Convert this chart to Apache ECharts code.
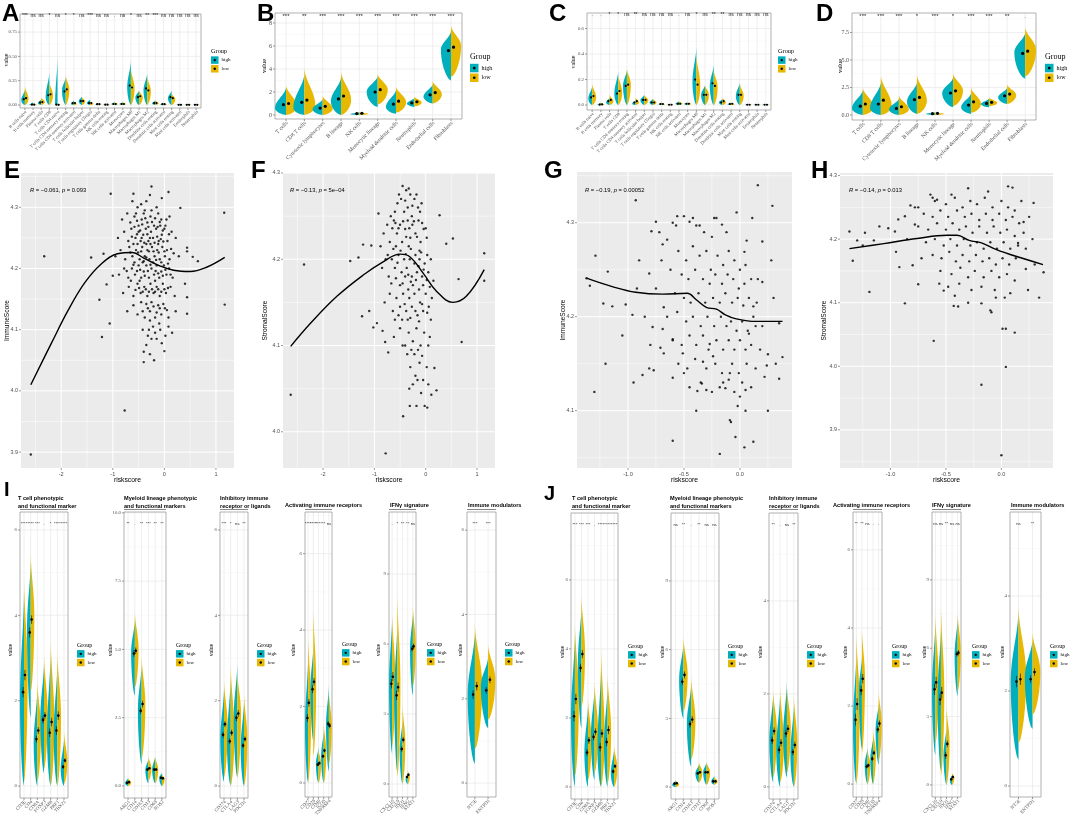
<!DOCTYPE html>
<html>
<head>
<meta charset="utf-8"/>
<title>Immune infiltration by risk group</title>
<script src="https://cdn.jsdelivr.net/npm/echarts@6.0.0/dist/echarts.min.js"></script>
<style>html,body{margin:0;padding:0;background:#fff}#main{width:1072px;height:818px}</style>
</head>
<body>
<div id="main"></div>
<script>
var HIGH = '#00AFBB', LOW = '#E7B800';
var SERIF = '"Liberation Serif","DejaVu Serif",serif';
var SANS = '"Liberation Sans",Arial,sans-serif';

// ---------- categories ----------
var cellsA = ['B cells naive','B cells memory','Plasma cells','T cells CD8','T cells CD4 naive','T cells CD4 memory resting','T cells CD4 memory activated','T cells follicular helper','T cells regulatory (Tregs)','T cells gamma delta','NK cells resting','NK cells activated','Monocytes','Macrophages M0','Macrophages M1','Macrophages M2','Dendritic cells resting','Dendritic cells activated','Mast cells resting','Mast cells activated','Eosinophils','Neutrophils'];
var cellsC = ['B cells naive','B cells memory','Plasma cells','T cells CD8','T cells CD4 memory resting','T cells CD4 memory activated','T cells follicular helper','T cells regulatory (Tregs)','T cells gamma delta','NK cells resting','NK cells activated','Monocytes','Macrophages M0','Macrophages M1','Macrophages M2','Dendritic cells resting','Dendritic cells activated','Mast cells resting','Mast cells activated','Eosinophils','Neutrophils'];
var mcpCells = ['T cells','CD8 T cells','Cytotoxic lymphocytes','B lineage','NK cells','Monocytic lineage','Myeloid dendritic cells','Neutrophils','Endothelial cells','Fibroblasts'];
var tcellGenes = ['CD3E','CD4','CD8A','FOXP3','GZMB','PRF1','TBX21'];
var myeloidGenes = ['ARG1','CD14','CD163','CD33','CD68','NOS2'];
var inhibitoryGenes = ['CD274','CTLA4','LAG3','PDCD1'];
var activatingGenes = ['CD27','CD28','CD40','ICOS','TNFRSF4'];
var ifngGenes = ['CXCL10','CXCL9','IDO1','IFNG','STAT1'];
var modulatorGenes = ['NT5E','ENTPD1'];

// ---------- violins: [min, mode, max, half width, mean, error] ----------
var sigA = ['***','ns','ns','*','ns','*','*','ns','***','ns','ns','.','ns','*','ns','**','***','ns','ns','ns','ns','ns'];
var highA = [[0,.05,.16,.45,.06],[0,0,.03,.45,.003],[0,.02,.06,.4,.025],[0,.08,.34,.45,.1],[0,0,.5,.3,.003],[0,.15,.29,.45,.14],[0,.01,.05,.35,.02],[0,.04,.09,.4,.04],[0,.02,.06,.4,.02],[0,.005,.02,.35,.008],[0,0,.015,.4,.003],[0,.01,.03,.4,.01],[0,.01,.03,.4,.01],[0,.18,.46,.45,.2],[0,.08,.15,.45,.08],[0,.15,.33,.45,.17],[0,.015,.05,.4,.02],[0,.005,.02,.4,.008],[0,.07,.15,.45,.08],[0,0,.01,.4,.002],[0,0,.01,.4,.002],[0,0,.01,.4,.002]];
var lowA = [[0,.06,.2,.45,.07],[0,0,.02,.45,.003],[0,.03,.08,.45,.03],[0,.1,.24,.45,.11],[0,0,.02,.3,.002],[0,.16,.31,.45,.16],[0,.01,.04,.35,.02],[0,.04,.08,.4,.04],[0,.01,.04,.4,.02],[0,.005,.02,.35,.008],[0,0,.015,.4,.003],[0,.01,.03,.4,.01],[0,.01,.03,.4,.01],[0,.17,.38,.45,.18],[0,.08,.15,.45,.09],[0,.14,.3,.45,.15],[0,.015,.05,.4,.02],[0,.005,.02,.4,.008],[0,.06,.12,.45,.07],[0,0,.01,.4,.002],[0,0,.01,.4,.002],[0,0,.01,.4,.002]];

var sigB = ['***','**','***','***','***','***','***','***','***','***'];
var highB = [[0,.6,2.4,.6,.9],[0,.6,3.6,.6,1.1],[0,.5,1.4,.55,.6],[0,1.2,3.3,.55,1.4],[0,.08,.25,.5,.12],[.7,2.0,3.4,.6,2.0],[.1,.7,2.2,.55,.95],[.7,1.0,1.5,.4,1.05],[1.0,1.6,2.7,.5,1.75],[3.0,5.7,7.3,.55,5.6]];
var lowB = [[0,.7,2.6,.6,1.0],[0,.8,4.1,.6,1.3],[0,.55,1.7,.55,.75],[0,1.3,3.8,.55,1.65],[0,.1,.25,.5,.15],[.9,2.2,3.6,.55,2.2],[.2,1.1,2.5,.55,1.2],[.75,1.1,1.6,.4,1.15],[1.0,1.8,3.0,.5,1.95],[3.3,6.0,7.8,.55,5.9]];

var sigC = ['.','.','*','*','ns','**','ns','ns','ns','ns','.','ns','*','ns','**','**','ns','ns','ns','ns','ns'];
var highC = [[0,.05,.15,.45,.06],[0,0,.02,.4,.003],[0,.02,.06,.4,.03],[0,.09,.27,.45,.09],[0,.15,.28,.45,.15],[0,.01,.04,.4,.02],[0,.04,.08,.45,.04],[0,.02,.05,.4,.02],[0,.005,.02,.35,.008],[0,0,.01,.35,.002],[0,.01,.03,.4,.01],[0,.01,.02,.4,.01],[0,.18,.46,.45,.2],[0,.08,.16,.45,.08],[0,.15,.32,.45,.17],[0,.02,.05,.4,.02],[0,.005,.02,.4,.008],[0,.07,.18,.45,.08],[0,0,.01,.4,.002],[0,0,.01,.4,.002],[0,0,.01,.4,.002]];
var lowC = [[0,.06,.17,.45,.07],[0,0,.02,.4,.005],[0,.03,.08,.45,.04],[0,.1,.24,.45,.11],[0,.16,.29,.45,.16],[0,.02,.06,.4,.03],[0,.04,.08,.45,.04],[0,.02,.05,.4,.02],[0,.005,.02,.35,.008],[0,0,.01,.35,.002],[0,.01,.03,.4,.01],[0,.01,.02,.4,.01],[0,.15,.4,.45,.16],[0,.08,.16,.45,.08],[0,.14,.28,.45,.15],[0,.02,.06,.4,.03],[0,.005,.02,.4,.01],[0,.07,.17,.45,.08],[0,0,.01,.4,.002],[0,0,.01,.4,.002],[0,0,.01,.4,.002]];

var sigD = ['***','***','***','*','***','*','***','***','**','.'];
var highD = [[0,.6,2.3,.6,.8],[0,.6,3.0,.6,1.0],[0,.5,1.5,.55,.6],[.1,1.2,3.0,.55,1.4],[0,.1,.25,.5,.12],[.7,2.0,3.4,.6,2.0],[.1,.7,2.0,.55,.9],[.7,1.0,1.5,.45,1.05],[1.0,1.6,2.5,.5,1.75],[3.3,5.7,7.5,.6,5.6]];
var lowD = [[0,.7,2.5,.6,1.0],[0,.8,3.6,.6,1.35],[0,.5,1.8,.55,.75],[.1,1.3,3.7,.55,1.6],[0,.1,.25,.5,.15],[.8,2.2,3.8,.55,2.2],[.2,1.0,2.5,.55,1.2],[.8,1.1,1.6,.45,1.15],[1.0,1.8,2.8,.5,1.9],[3.5,5.9,8.0,.6,5.8]];

var sigI1 = ['****','****','***','.','*','****','****'];
var highI1 = [[0,2.0,4.6,.6,2.2,.12],[1.6,3.7,5.3,.55,3.6,.12],[0,1.0,2.3,.55,1.1,.08],[.3,1.6,2.9,.55,1.55,.08],[0,1.2,3.2,.55,1.25,.1],[0,1.2,2.9,.55,1.3,.1],[0,.4,1.1,.5,.45,.05]];
var lowI1 = [[.1,2.6,4.9,.55,2.6,.12],[2.2,4.0,5.5,.55,3.9,.1],[.1,1.3,2.5,.55,1.3,.08],[.4,1.7,3.1,.55,1.65,.08],[0,1.5,3.5,.55,1.5,.1],[0,1.6,3.2,.55,1.65,.1],[.05,.55,1.3,.5,.6,.05]];
var sigI2 = ['**','.','**','***','**','**'];
var highI2 = [[0,.1,.3,.45,.12,.03],[3.3,4.9,6.1,.55,4.85,.12],[.8,2.8,4.5,.55,2.75,.12],[.1,.6,1.0,.45,.6,.04],[.1,.6,1.1,.45,.6,.04],[0,.3,.5,.4,.3,.03]];
var lowI2 = [[0,.12,.3,.45,.14,.03],[3.6,5.0,6.4,.55,4.95,.12],[1.0,3.0,4.8,.55,3.0,.12],[.2,.65,1.1,.45,.65,.04],[.1,.6,1.1,.45,.6,.04],[0,.25,.45,.4,.28,.03]];
var sigI3 = ['***','*','ns','**'];
var highI3 = [[.1,1.1,2.3,.55,1.2,.07],[0,1.0,2.6,.55,1.05,.07],[.2,1.6,2.9,.55,1.6,.08],[0,.9,2.0,.5,.95,.06]];
var lowI3 = [[.2,1.4,2.5,.55,1.45,.07],[0,1.2,2.9,.55,1.25,.07],[.2,1.7,2.7,.55,1.7,.08],[0,1.1,2.2,.5,1.1,.06]];
var sigI4 = ['****','****','****','**','ns'];
var highI4 = [[0,1.5,3.3,.6,1.7,.1],[1.1,2.5,3.6,.55,2.45,.1],[0,.5,.95,.5,.48,.04],[0,.7,1.4,.5,.7,.05],[.3,1.5,2.6,.55,1.55,.07]];
var lowI4 = [[0,2.0,3.9,.6,2.1,.1],[.7,2.6,4.6,.55,2.65,.1],[0,.5,.9,.5,.52,.04],[0,.8,1.6,.5,.85,.05],[.5,1.5,2.4,.55,1.5,.07]];
var sigI5 = ['.','*','**','**','ns'];
var highI5 = [[1.3,4.3,7.2,.6,4.3,.2],[.5,3.8,7.0,.6,3.8,.2],[0,1.4,2.8,.55,1.5,.12],[0,.2,.5,.4,.3,.05],[3.8,5.8,7.4,.55,5.8,.12]];
var lowI5 = [[1.6,4.6,7.4,.6,4.6,.2],[.3,4.2,8.3,.6,4.15,.2],[0,1.8,3.4,.55,1.9,.12],[0,.3,.6,.4,.4,.05],[4.2,5.9,7.7,.55,5.9,.12]];
var sigI6 = ['***','***'];
var highI6 = [[.45,2.1,3.6,.55,2.1,.1],[1.3,2.3,3.0,.55,2.2,.08]];
var lowI6 = [[.8,2.3,3.8,.55,2.3,.1],[1.5,2.45,3.3,.55,2.45,.08]];

var sigJ1 = ['***','***','***','.','****','****','****'];
var highJ1 = [[0,2.0,4.5,.6,2.05,.15],[1.7,3.6,5.3,.55,3.45,.12],[0,1.0,2.4,.55,1.0,.1],[.2,1.5,2.9,.55,1.45,.1],[0,1.1,3.5,.55,1.15,.12],[0,1.2,3.0,.55,1.3,.12],[0,.4,1.1,.5,.45,.06]];
var lowJ1 = [[.3,2.5,4.8,.6,2.55,.15],[2.3,3.9,5.6,.55,3.85,.12],[.2,1.3,2.6,.55,1.35,.1],[.4,1.6,3.1,.55,1.6,.1],[0,1.5,4.1,.55,1.55,.12],[.1,1.6,3.3,.55,1.65,.12],[0,.55,1.2,.5,.6,.06]];
var sigJ2 = ['ns','**','.','**','ns','ns'];
var highJ2 = [[0,.1,.3,.45,.15,.04],[3.0,4.7,6.3,.55,4.6,.15],[.9,2.8,4.5,.55,2.75,.15],[.2,.6,1.0,.45,.6,.05],[.1,.65,1.1,.45,.65,.05],[.1,.25,.5,.4,.25,.03]];
var lowJ2 = [[0,.12,.3,.45,.17,.04],[3.3,4.9,6.6,.55,4.9,.15],[1.2,2.9,4.9,.55,2.95,.15],[.2,.65,1.1,.45,.65,.05],[.1,.65,1.1,.45,.65,.05],[.1,.25,.45,.4,.25,.03]];
var sigJ3 = ['**','.','ns','**'];
var highJ3 = [[.1,1.0,2.0,.55,1.0,.08],[0,.8,2.0,.55,.8,.08],[.2,1.1,2.3,.55,1.15,.08],[0,.7,1.8,.5,.75,.07]];
var lowJ3 = [[.2,1.2,2.1,.55,1.2,.08],[.1,.9,2.2,.55,.95,.08],[.3,1.25,2.2,.55,1.25,.08],[0,.9,2.0,.5,.9,.07]];
var sigJ4 = ['**','**','ns','.','.'];
var highJ4 = [[0,1.5,3.4,.6,1.65,.15],[.9,2.4,3.3,.55,2.4,.12],[0,.5,.95,.5,.45,.05],[0,.65,1.2,.5,.65,.06],[.5,1.4,2.1,.55,1.4,.08]];
var lowJ4 = [[0,2.0,3.9,.6,2.05,.15],[.8,2.7,4.0,.55,2.7,.12],[0,.5,.9,.5,.48,.05],[0,.8,1.4,.5,.8,.06],[.6,1.55,2.4,.55,1.55,.08]];
var sigJ5 = ['ns','ns','**','ns','ns'];
var highJ5 = [[1.3,4.2,7.2,.6,4.2,.25],[.6,3.8,7.0,.6,3.75,.25],[0,1.3,2.6,.55,1.3,.15],[0,.2,.45,.4,.25,.06],[3.9,5.7,7.4,.55,5.75,.12]];
var lowJ5 = [[1.8,4.5,7.6,.6,4.5,.25],[.4,4.1,8.0,.6,4.05,.25],[0,1.8,3.5,.55,1.8,.15],[0,.3,.55,.4,.35,.06],[4.1,5.8,7.6,.55,5.8,.12]];
var sigJ6 = ['ns','**'];
var highJ6 = [[.55,2.2,3.7,.55,2.2,.12],[1.2,2.3,3.1,.55,2.25,.08]];
var lowJ6 = [[.9,2.3,3.8,.55,2.25,.12],[1.5,2.4,3.25,.55,2.4,.08]];

// ---------- tick labels ----------
var yTicksA = [0, 0.25, 0.5, 0.75], yLabelsA = ['0.00','0.25','0.50','0.75'];
var yTicksB = [0, 2, 4, 6, 8], yLabelsB = ['0','2','4','6','8'];
var yTicksC = [0, 0.2, 0.4, 0.6], yLabelsC = ['0.0','0.2','0.4','0.6'];
var yTicksD = [0, 2.5, 5, 7.5], yLabelsD = ['0.0','2.5','5.0','7.5'];
var yTicks0246 = [0, 2, 4, 6], yLabels0246 = ['0','2','4','6'];
var yTicks024 = [0, 2, 4], yLabels024 = ['0','2','4'];
var yTicks0369 = [0, 3, 6, 9], yLabels0369 = ['0','3','6','9'];
var yTicksI2 = [0, 2.5, 5, 7.5, 10], yLabelsI2 = ['0.0','2.5','5.0','7.5','10.0'];
var xTicksEF = [-2, -1, 0, 1], xLabelsEF = ['-2','-1','0','1'];
var xTicksGH = [-1, -0.5, 0], xLabelsGH = ['-1.0','-0.5','0.0'];
var yTicksEH = [3.9, 4.0, 4.1, 4.2, 4.3], yLabelsEH = ['3.9','4.0','4.1','4.2','4.3'];
var yTicksF = [4.0, 4.1, 4.2, 4.3], yLabelsF = ['4.0','4.1','4.2','4.3'];
var yTicksG = [4.1, 4.2, 4.3], yLabelsG = ['4.1','4.2','4.3'];

// ---------- scatter panels: riskscore vs score ----------
var pointsE = [[-2.59,3.896],[-2.33,4.22],[-1.42,4.218],[-1.18,4.224],[-1.26,4.149],[-1.21,4.088],[-1.06,4.11],[-1.12,4.174],[-1.0,4.188],[-1.04,4.322],[-0.6,4.322],[-0.25,4.334],[0.08,4.325],[0.31,4.299],[0.44,4.234],[0.44,4.228],[0.55,4.219],[0.65,4.212],[0.4,4.175],[0.44,4.153],[0.44,4.126],[1.16,4.291],[1.17,4.141],[-0.4,4.064],[-0.4,4.047],[-0.2,4.05],[-0.28,4.06],[0.0,4.065],[-0.05,4.078],[-0.77,3.968],
[-0.62,4.31],[-0.45,4.305],[-0.35,4.31],[-0.28,4.32],[-0.15,4.30],[-0.05,4.315],[-0.38,4.295],[-0.52,4.30],
[-0.82,4.28],[-0.72,4.29],[-0.66,4.275],[-0.58,4.285],[-0.5,4.27],[-0.44,4.28],[-0.4,4.29],[-0.33,4.275],[-0.27,4.285],[-0.2,4.27],[-0.12,4.29],[-0.06,4.28],[0.02,4.27],[0.1,4.285],[-0.25,4.295],[-0.55,4.29],
[-0.9,4.25],[-0.78,4.26],[-0.7,4.245],[-0.64,4.265],[-0.56,4.25],[-0.5,4.26],[-0.46,4.245],[-0.41,4.255],[-0.36,4.265],[-0.31,4.245],[-0.26,4.26],[-0.22,4.25],[-0.16,4.265],[-0.11,4.245],[-0.05,4.255],[0.0,4.265],[0.06,4.245],[0.14,4.26],[0.22,4.25],[-0.6,4.24],[-0.35,4.24],[-0.08,4.27],
[-0.95,4.22],[-0.85,4.23],[-0.76,4.215],[-0.68,4.235],[-0.62,4.22],[-0.55,4.23],[-0.48,4.215],[-0.43,4.235],[-0.38,4.22],[-0.33,4.23],[-0.29,4.215],[-0.24,4.235],[-0.19,4.22],[-0.14,4.23],[-0.09,4.215],[-0.04,4.235],[0.01,4.22],[0.05,4.23],[0.1,4.215],[0.18,4.225],[0.28,4.22],[-0.52,4.24],[-0.27,4.24],[-0.12,4.24],
[-0.88,4.19],[-0.78,4.2],[-0.7,4.185],[-0.63,4.2],[-0.57,4.19],[-0.5,4.205],[-0.45,4.185],[-0.4,4.195],[-0.35,4.205],[-0.3,4.185],[-0.25,4.2],[-0.2,4.19],[-0.15,4.205],[-0.1,4.185],[-0.06,4.195],[-0.01,4.205],[0.04,4.19],[0.09,4.2],[0.16,4.185],[-0.42,4.21],[-0.22,4.21],[-0.65,4.18],
[-0.8,4.16],[-0.69,4.17],[-0.6,4.155],[-0.52,4.175],[-0.46,4.16],[-0.39,4.17],[-0.33,4.155],[-0.27,4.175],[-0.21,4.16],[-0.15,4.17],[-0.09,4.155],[-0.03,4.175],[0.03,4.16],[0.12,4.17],[0.2,4.155],[-0.48,4.18],[-0.18,4.18],
[-0.72,4.13],[-0.6,4.14],[-0.52,4.125],[-0.45,4.145],[-0.38,4.12],[-0.32,4.135],[-0.25,4.145],[-0.18,4.12],[-0.12,4.14],[-0.06,4.125],[0.01,4.135],[0.08,4.12],[0.22,4.13],[-0.28,4.115],
[-0.42,4.1],[-0.32,4.09],[-0.22,4.105],[-0.15,4.085],[-0.08,4.1],[0.02,4.09],[0.15,4.095],[-0.35,4.075],
[-0.58,4.268],[-0.53,4.278],[-0.47,4.262],[-0.43,4.272],[-0.37,4.282],[-0.31,4.268],[-0.24,4.276],[-0.18,4.282],[-0.13,4.268],[-0.09,4.276],[-0.03,4.262],[0.04,4.28],
[-0.63,4.252],[-0.53,4.256],[-0.44,4.25],[-0.39,4.242],[-0.33,4.256],[-0.28,4.25],[-0.19,4.242],[-0.14,4.252],[-0.07,4.248],[-0.02,4.244],[0.09,4.256],
[-0.66,4.226],[-0.58,4.21],[-0.51,4.226],[-0.45,4.228],[-0.4,4.212],[-0.35,4.218],[-0.3,4.228],[-0.21,4.228],[-0.16,4.214],[-0.11,4.226],[-0.06,4.21],[0.0,4.228],[0.07,4.208],[0.13,4.232],
[-0.73,4.196],[-0.6,4.206],[-0.53,4.196],[-0.47,4.198],[-0.38,4.188],[-0.32,4.196],[-0.27,4.206],[-0.17,4.196],[-0.12,4.192],[-0.03,4.188],[0.02,4.198],[0.12,4.19],
[-0.56,4.165],[-0.49,4.168],[-0.42,4.162],[-0.36,4.166],[-0.3,4.162],[-0.24,4.166],[-0.18,4.162],[-0.12,4.166],[-0.06,4.162],[0.0,4.166],[0.07,4.168],
[-0.42,4.13],[-0.35,4.142],[-0.28,4.13],[-0.21,4.138],[-0.15,4.128],[-0.09,4.135],[-0.02,4.142],[0.05,4.132],
[-0.3,4.1],[-0.18,4.095],[-0.1,4.11],[-0.25,4.085],[0.08,4.105]];
var smoothE = [[-2.59,4.01],[-2.19,4.078],[-1.87,4.131],[-1.55,4.176],[-1.23,4.207],[-0.91,4.224],[-0.62,4.226],[-0.4,4.217],[-0.08,4.204],[0.18,4.197],[0.5,4.195],[0.82,4.202],[1.17,4.218]];
var bandE = [[-2.59,3.93,4.091],[-2.19,4.023,4.131],[-1.87,4.095,4.162],[-1.55,4.159,4.194],[-1.23,4.196,4.218],[-0.91,4.218,4.232],[-0.62,4.22,4.232],[-0.4,4.213,4.221],[-0.08,4.199,4.209],[0.18,4.192,4.203],[0.5,4.183,4.207],[0.82,4.169,4.234],[1.17,4.148,4.28]];

var pointsF = [[-2.37,4.194],[-1.47,4.198],[-1.31,4.202],[-1.22,4.217],[-1.06,4.216],[-1.24,4.134],[-1.1,4.14],[-0.95,4.126],[-1.02,4.121],[-0.84,4.117],[-0.79,4.104],[-0.73,4.092],[-0.92,4.253],[0.27,4.251],[0.53,4.224],[0.4,4.218],[0.64,4.177],[0.7,4.104],[1.14,4.207],[1.14,4.175],[-2.63,4.043],[-0.44,4.018],[-0.31,4.03],[-0.18,4.03],[-0.02,4.03],[0.03,4.028],[0.21,4.048],[0.11,4.043],[0.17,4.074],[-0.78,3.975],
[-0.45,4.285],[-0.38,4.28],[-0.55,4.265],[-0.48,4.27],[-0.3,4.275],[-0.22,4.27],[-0.35,4.26],[-0.6,4.255],[-0.42,4.255],[-0.15,4.26],[-0.68,4.25],[-0.27,4.25],[-0.08,4.265],
[-0.82,4.23],[-0.75,4.24],[-0.7,4.22],[-0.62,4.245],[-0.56,4.23],[-0.5,4.24],[-0.46,4.22],[-0.4,4.235],[-0.35,4.245],[-0.3,4.225],[-0.26,4.24],[-0.2,4.23],[-0.14,4.245],[-0.1,4.22],[-0.04,4.235],[0.02,4.225],[-0.58,4.215],[-0.33,4.215],[-0.12,4.21],[-0.88,4.215],
[-0.85,4.19],[-0.78,4.2],[-0.72,4.18],[-0.66,4.2],[-0.6,4.19],[-0.53,4.205],[-0.47,4.185],[-0.42,4.2],[-0.37,4.19],[-0.31,4.2],[-0.27,4.18],[-0.22,4.195],[-0.17,4.185],[-0.12,4.2],[-0.07,4.18],[-0.02,4.195],[0.05,4.185],[0.1,4.2],[0.15,4.175],[-0.5,4.17],[-0.25,4.17],
[-0.8,4.15],[-0.7,4.16],[-0.64,4.14],[-0.57,4.155],[-0.5,4.145],[-0.44,4.16],[-0.38,4.14],[-0.32,4.155],[-0.27,4.145],[-0.22,4.16],[-0.16,4.135],[-0.11,4.15],[-0.05,4.14],[0.0,4.16],[0.06,4.145],[0.12,4.155],[-0.6,4.13],[-0.35,4.13],
[-0.62,4.11],[-0.5,4.12],[-0.4,4.1],[-0.33,4.115],[-0.25,4.105],[-0.18,4.12],[-0.1,4.1],[-0.03,4.115],[0.05,4.1],[-0.22,4.09],
[-0.3,4.075],[-0.2,4.065],[-0.12,4.08],[-0.05,4.06],[0.02,4.075],[-0.25,4.055],
[-0.52,4.275],[-0.4,4.268],[-0.33,4.282],[-0.26,4.262],[-0.18,4.275],[-0.11,4.255],
[-0.65,4.236],[-0.59,4.242],[-0.53,4.236],[-0.44,4.244],[-0.38,4.226],[-0.32,4.236],[-0.23,4.244],[-0.17,4.226],[-0.07,4.242],[0.0,4.236],
[-0.74,4.205],[-0.63,4.212],[-0.55,4.196],[-0.49,4.21],[-0.39,4.206],[-0.34,4.182],[-0.29,4.212],[-0.2,4.205],[-0.14,4.192],[-0.09,4.208],[-0.04,4.188],[0.03,4.205],
[-0.67,4.172],[-0.58,4.178],[-0.45,4.172],[-0.4,4.18],[-0.34,4.165],[-0.29,4.174],[-0.19,4.176],[-0.13,4.165],[-0.05,4.17],[0.02,4.176],[0.08,4.168],
[-0.53,4.135],[-0.46,4.13],[-0.41,4.148],[-0.3,4.132],[-0.2,4.14],[-0.13,4.128],[-0.07,4.148],[0.03,4.138],[0.1,4.13],
[-0.45,4.1],[-0.36,4.09],[-0.28,4.095],[-0.15,4.095],[-0.07,4.088],[0.08,4.11],[-0.16,4.06],[-0.09,4.045],[0.05,4.055],[-0.32,4.05]];
var smoothF = [[-2.63,4.099],[-2.24,4.126],[-1.73,4.157],[-1.21,4.182],[-0.83,4.197],[-0.5,4.206],[-0.31,4.203],[-0.05,4.184],[0.21,4.163],[0.53,4.15],[0.79,4.157],[1.14,4.188]];
var bandF = [[-2.63,4.026,4.174],[-2.24,4.07,4.18],[-1.73,4.143,4.172],[-1.21,4.174,4.19],[-0.83,4.191,4.203],[-0.5,4.2,4.212],[-0.31,4.197,4.209],[-0.05,4.177,4.191],[0.21,4.152,4.174],[0.53,4.132,4.168],[0.79,4.13,4.185],[1.14,4.126,4.25]];

var pointsG = [[-0.93,4.324],[0.16,4.34],[0.29,4.318],[-1.29,4.265],[-1.18,4.248],[-1.37,4.241],[-1.34,4.233],[-1.22,4.214],[-1.14,4.211],[-1.02,4.213],[-0.96,4.202],[-0.92,4.23],[-0.81,4.246],[-0.79,4.291],[-0.75,4.301],[-0.69,4.277],[-0.65,4.282],[-0.78,4.189],[-0.69,4.187],[-0.71,4.167],[-0.68,4.161],[-0.81,4.145],[-0.77,4.143],[-0.87,4.138],[-0.6,4.135],[-0.6,4.176],[-0.51,4.161],[-0.5,4.14],[0.35,4.193],[0.38,4.157],[0.35,4.134],[0.22,4.136],[0.24,4.148],[0.14,4.19],[0.16,4.24],[0.2,4.237],[0.12,4.211],[0.08,4.182],[0.06,4.281],[0.04,4.269],[0.11,4.305],[-0.03,4.311],[-0.16,4.298],[-0.23,4.305],[-0.21,4.305],[-0.39,4.297],[-0.36,4.297],[-0.45,4.301],[-0.5,4.307],[-0.56,4.307],[-0.57,4.297],[-0.02,4.105],[0.05,4.122],[0.0,4.115],[-0.18,4.125],[-0.13,4.124],[-0.3,4.122],[-0.38,4.121],[-0.34,4.129],[-0.33,4.152],[-0.27,4.171],[-0.24,4.158],[-0.1,4.133],[-0.09,4.14],[0.05,4.1],[-0.39,4.1],[-0.09,4.09],[-0.08,4.088],[-0.6,4.068],[-0.04,4.072],[0.12,4.067],[0.04,4.061],[-0.18,4.054],
[-0.55,4.27],[-0.48,4.26],[-0.42,4.275],[-0.36,4.265],[-0.3,4.27],[-0.26,4.25],[-0.2,4.265],[-0.15,4.255],[-0.1,4.27],[-0.05,4.26],[0.0,4.25],[0.05,4.255],
[-0.62,4.25],[-0.52,4.245],[-0.46,4.24],[-0.4,4.25],[-0.33,4.24],[-0.27,4.235],[-0.22,4.245],[-0.16,4.235],[-0.11,4.245],[-0.06,4.24],[-0.01,4.23],[0.04,4.235],[0.1,4.24],
[-0.58,4.225],[-0.5,4.22],[-0.44,4.215],[-0.37,4.225],[-0.31,4.215],[-0.24,4.22],[-0.18,4.215],[-0.13,4.225],[-0.07,4.215],[-0.02,4.22],[0.03,4.212],[0.08,4.22],[0.15,4.215],
[-0.65,4.2],[-0.56,4.205],[-0.48,4.195],[-0.42,4.2],[-0.35,4.19],[-0.29,4.2],[-0.23,4.19],[-0.17,4.2],[-0.12,4.19],[-0.08,4.195],[-0.03,4.185],[0.02,4.195],[0.07,4.185],[0.12,4.2],[0.2,4.19],
[-0.6,4.175],[-0.52,4.17],[-0.45,4.18],[-0.39,4.17],[-0.33,4.18],[-0.28,4.165],[-0.21,4.175],[-0.15,4.165],[-0.1,4.175],[-0.05,4.165],[0.0,4.175],[0.05,4.165],[0.1,4.17],[0.18,4.165],
[-0.55,4.15],[-0.47,4.145],[-0.4,4.155],[-0.3,4.145],[-0.22,4.15],[-0.16,4.14],[-0.07,4.15],[-0.01,4.14],[0.06,4.15],[0.14,4.145],[0.25,4.16],
[-0.45,4.125],[-0.35,4.13],[-0.25,4.12],[-0.15,4.13],[-0.05,4.12],[0.02,4.13],[0.1,4.125],
[-0.9,4.26],[-0.85,4.2],[-0.75,4.23],[-0.7,4.26],[-0.68,4.21],[-0.8,4.17],[-1.05,4.18],[-1.2,4.15],[-1.3,4.12],[-0.95,4.13],[-0.72,4.29],[-0.6,4.3],[-0.32,4.29],[-0.12,4.29],[0.2,4.28],[0.28,4.26],[0.3,4.22],[0.32,4.15],[0.25,4.1],[-0.25,4.285],[-0.42,4.305]];
var smoothG = [[-1.37,4.241],[-1.14,4.232],[-0.93,4.226],[-0.69,4.224],[-0.47,4.225],[-0.39,4.218],[-0.3,4.21],[-0.21,4.208],[-0.13,4.202],[-0.04,4.198],[0.14,4.195],[0.38,4.195]];
var bandG = [[-1.37,4.195,4.289],[-1.14,4.207,4.259],[-0.93,4.21,4.245],[-0.69,4.215,4.234],[-0.47,4.218,4.232],[-0.21,4.2,4.216],[-0.04,4.19,4.207],[0.14,4.174,4.216],[0.38,4.133,4.25]];

var pointsH = [[-1.37,4.212],[-1.34,4.166],[-1.3,4.198],[-1.23,4.21],[-1.19,4.117],[-1.15,4.198],[-1.02,4.217],[-0.96,4.212],[-0.93,4.231],[-0.92,4.156],[-0.87,4.099],[-0.87,4.236],[-0.82,4.253],[-0.75,4.25],[-0.8,4.159],[-0.78,4.223],[-0.75,4.129],[-0.61,4.04],[-0.62,4.265],[-0.58,4.262],[-0.18,3.971],[0.04,3.999],[0.01,4.059],[0.04,4.059],[0.12,4.053],[0.06,4.283],[0.1,4.281],[0.29,4.257],[0.24,4.12],[0.34,4.108],[0.38,4.148],[0.2,4.227],[0.15,4.194],[0.22,4.153],[-0.09,4.085],[-0.1,4.088],[-0.18,4.099],[-0.43,4.095],[-0.39,4.094],[-0.42,4.111],[-0.3,4.1],[-0.05,4.108],[0.03,4.108],[-0.52,4.119],[0.0,3.86],
[-0.6,4.26],[-0.5,4.255],[-0.42,4.265],[-0.35,4.25],[-0.28,4.26],[-0.22,4.255],[-0.15,4.265],[-0.08,4.25],[0.0,4.26],[0.06,4.25],[0.12,4.245],
[-0.7,4.24],[-0.62,4.235],[-0.55,4.245],[-0.48,4.235],[-0.4,4.245],[-0.33,4.235],[-0.27,4.24],[-0.2,4.23],[-0.14,4.24],[-0.08,4.23],[-0.02,4.24],[0.04,4.23],[0.1,4.235],[0.16,4.225],
[-0.75,4.22],[-0.66,4.215],[-0.58,4.225],[-0.5,4.215],[-0.44,4.225],[-0.38,4.215],[-0.32,4.22],[-0.26,4.21],[-0.2,4.22],[-0.13,4.21],[-0.07,4.22],[-0.01,4.21],[0.05,4.215],[0.12,4.205],[0.2,4.21],
[-0.68,4.195],[-0.6,4.2],[-0.52,4.19],[-0.46,4.2],[-0.4,4.19],[-0.34,4.2],[-0.28,4.19],[-0.22,4.195],[-0.16,4.185],[-0.1,4.195],[-0.04,4.185],[0.02,4.195],[0.08,4.185],[0.15,4.19],[0.22,4.185],
[-0.62,4.175],[-0.54,4.17],[-0.47,4.18],[-0.41,4.165],[-0.35,4.175],[-0.29,4.165],[-0.23,4.175],[-0.17,4.165],[-0.11,4.17],[-0.05,4.16],[0.01,4.17],[0.07,4.16],[0.13,4.17],
[-0.55,4.15],[-0.45,4.145],[-0.37,4.155],[-0.3,4.14],[-0.24,4.15],[-0.16,4.14],[-0.09,4.15],[-0.02,4.14],[0.05,4.145],[0.12,4.135],
[-0.48,4.125],[-0.38,4.13],[-0.27,4.12],[-0.18,4.125],[-0.06,4.12],[0.08,4.115],
[-0.78,4.25],[-0.72,4.17],[-0.64,4.27],[-0.56,4.13],[-0.45,4.27],[-0.3,4.28],[-0.12,4.275],[0.18,4.26],[0.25,4.235],[0.28,4.2],[0.3,4.16],[-0.85,4.2],[-0.95,4.18],[-1.1,4.22],[-1.25,4.19]];
var smoothH = [[-1.37,4.185],[-1.06,4.193],[-0.76,4.201],[-0.49,4.206],[-0.4,4.206],[-0.29,4.198],[-0.18,4.194],[-0.05,4.184],[0.13,4.173],[0.375,4.16]];
var bandH = [[-1.37,4.137,4.231],[-1.06,4.173,4.213],[-0.76,4.189,4.208],[-0.49,4.2,4.213],[-0.18,4.186,4.201],[0.13,4.147,4.2],[0.375,4.111,4.21]];

// ---------- helpers ----------
var chart = echarts.init(document.getElementById('main'));
var option = {animation: false, backgroundColor: '#FFFFFF', grid: [], xAxis: [], yAxis: [], series: [], graphic: {elements: []}};
var G = option.graphic.elements;

function seg(x1, y1, x2, y2, color, w) {
  return {type: 'line', silent: true, shape: {x1: x1, y1: y1, x2: x2, y2: y2}, style: {stroke: color, lineWidth: w}};
}
function txt(x, y, s, size, o) {
  o = o || {};
  var st = {text: s, fill: o.color || '#000', fontSize: size, fontFamily: o.family || SERIF,
    fontWeight: o.weight || 'normal', align: o.align || 'left', verticalAlign: o.va || 'middle',
    textAlign: o.align || 'left', textVerticalAlign: o.va || 'middle'};
  if (o.rich) st.rich = o.rich;
  return {type: 'text', silent: true, x: x, y: y, rotation: o.rot || 0, z: 50, style: st};
}
function minors(ticks, range) {
  var step = ticks[1] - ticks[0], out = [];
  for (var v = ticks[0] - step / 2; v <= range[1]; v += step) if (v >= range[0]) out.push(v);
  return out;
}
function bell(s) { s = Math.min(1, Math.max(0, s)); return (1 - Math.cos(Math.PI * s)) / 2; }

function addPanel(c) {
  var gi = option.grid.length;
  option.grid.push({left: c.box[0], top: c.box[1], width: c.box[2] - c.box[0], height: c.box[3] - c.box[1],
    show: true, backgroundColor: c.gray ? '#EBEBEB' : '#FFFFFF', borderWidth: 0, borderColor: 'transparent'});
  option.xAxis.push({type: 'value', gridIndex: gi, min: c.xr[0], max: c.xr[1], show: false});
  option.yAxis.push({type: 'value', gridIndex: gi, min: c.yr[0], max: c.yr[1], show: false});
  var major = c.gray ? '#FFFFFF' : '#EBEBEB', minor = c.gray ? '#FFFFFF' : '#F5F5F5';
  option.series.push({
    type: 'custom', xAxisIndex: gi, yAxisIndex: gi, clip: false, silent: true, z: 1,
    data: [[c.xr[0], c.yr[0]]],
    renderItem: function (params, api) {
      var ch = [];
      var x0 = api.coord([c.xr[0], c.yr[0]])[0], x1 = api.coord([c.xr[1], c.yr[0]])[0];
      var y0 = api.coord([c.xr[0], c.yr[0]])[1], y1 = api.coord([c.xr[0], c.yr[1]])[1];
      minors(c.yTicks, c.yr).forEach(function (v) {
        var y = api.coord([c.xr[0], v])[1]; ch.push(seg(x0, y, x1, y, minor, 0.5));
      });
      if (c.gray) minors(c.xTicks, c.xr).forEach(function (v) {
        var x = api.coord([v, c.yr[0]])[0]; ch.push(seg(x, y0, x, y1, minor, 0.5));
      });
      c.yTicks.forEach(function (v, k) {
        var y = api.coord([c.xr[0], v])[1];
        ch.push(seg(x0, y, x1, y, major, c.gray ? 1 : 0.8));
        ch.push(seg(x0 - 2, y, x0, y, '#333333', 0.5));
        ch.push(txt(x0 - 3, y, c.yLabels[k], c.yFs, {align: 'right', family: c.family, color: '#4D4D4D'}));
      });
      c.xTicks.forEach(function (v, k) {
        var x = api.coord([v, c.yr[0]])[0];
        ch.push(seg(x, y0, x, y1, major, c.gray ? 1 : 0.8));
        ch.push(seg(x, y0, x, y0 + 2, '#333333', 0.5));
        if (c.rotate) ch.push(txt(x + 1.2, y0 + 3.2, c.xLabels[k], c.xFs, {align: 'right', family: c.family, color: '#4D4D4D', rot: Math.PI / 4}));
        else ch.push(txt(x, y0 + 3, c.xLabels[k], c.xFs, {align: 'center', va: 'top', family: c.family, color: '#4D4D4D'}));
      });
      if (!c.gray) ch.push({type: 'rect', silent: true, shape: {x: x0, y: y1, width: x1 - x0, height: y0 - y1}, style: {fill: 'none', stroke: '#8F8F8F', lineWidth: 0.7}});
      return {type: 'group', children: ch};
    }
  });
  return gi;
}

// half violin outline: rounded below the mode, tapering needle above it
function halfViolin(api, i, cx, sp, d, side, color) {
  var pts = [], n = 40;
  for (var k = 0; k <= n; k++) {
    var v = d[0] + (d[2] - d[0]) * k / n, f;
    if (v <= d[1]) f = d[1] > d[0] ? Math.pow(Math.sin(Math.PI / 2 * (v - d[0]) / (d[1] - d[0])), 0.6) : 1;
    else f = Math.pow(bell((d[2] - v) / (d[2] - d[1])), 0.9);
    pts.push([cx + side * d[3] * sp * f, api.coord([i, v])[1]]);
  }
  pts.push([cx, api.coord([i, d[2]])[1]]);
  pts.push([cx, api.coord([i, d[0]])[1]]);
  return {type: 'polygon', silent: true, shape: {points: pts}, style: {fill: color}};
}

function addViolins(gi, p) {
  option.series.push({
    type: 'custom', xAxisIndex: gi, yAxisIndex: gi, clip: false, silent: true, z: 3,
    data: p.names.map(function (n, i) { return [i, 0]; }),
    renderItem: function (params, api) {
      var i = params.dataIndex;
      var cx = api.coord([i, 0])[0], sp = api.size([1, 0])[0];
      var top = api.coord([i, p.yr[1]])[1];
      var ch = [halfViolin(api, i, cx, sp, p.high[i], -1, HIGH), halfViolin(api, i, cx, sp, p.low[i], 1, LOW)];
      [[p.high[i], -1], [p.low[i], 1]].forEach(function (q) {
        var d = q[0], x = cx + q[1] * 0.14 * sp, y = api.coord([i, d[4]])[1];
        if (d[5]) { var e = api.size([0, d[5]])[1]; ch.push(seg(x, y - e, x, y + e, '#000000', 0.6)); }
        ch.push({type: 'circle', silent: true, shape: {cx: x, cy: y, r: p.dotR}, style: {fill: '#000000'}});
      });
      ch.push(txt(cx, top + p.sigDy, p.sig[i], p.sigFs, {align: 'center', family: SANS, color: '#222222'}));
      return {type: 'group', children: ch};
    }
  });
}

function addLegend(l) {
  var x = l[0], y = l[1], sq = l[2], fs = l[3], lfs = l[4];
  G.push(txt(x, y, 'Group', fs, {}));
  [[HIGH, 'high'], [LOW, 'low']].forEach(function (g, k) {
    var ty = y + fs * 0.85 + k * (sq + 1.2);
    G.push({type: 'rect', silent: true, shape: {x: x, y: ty, width: sq, height: sq}, style: {fill: g[0]}});
    G.push({type: 'circle', silent: true, shape: {cx: x + sq / 2, cy: ty + sq / 2, r: sq * 0.16}, style: {fill: '#000'}});
    G.push(txt(x + sq + 3, ty + sq / 2, g[1], lfs, {}));
  });
}

// ---------- violin panels ----------
var smallA = {xFs: 4.5, yFs: 4.8, sigFs: 5, sigDy: 2, dotR: 1.1};
var bigB = {xFs: 5.6, yFs: 6, sigFs: 6, sigDy: 3.5, dotR: 1.6};
var geneP = {xFs: 4.8, yFs: 4.8, sigFs: 4.2, sigDy: 11.5, dotR: 1.3};
var vPanels = [
  {s: smallA, box: [20, 14, 201, 108], xr: [-0.6, 21.6], yr: [-0.031, 0.936], names: cellsA, sig: sigA, high: highA, low: lowA, yTicks: yTicksA, yLabels: yLabelsA, yTitle: [6, 60, 6], legend: [211, 51, 7.5, 6.3, 5]},
  {s: bigB, box: [275, 13, 462, 119], xr: [-0.6, 9.6], yr: [-0.348, 8.87], names: mcpCells, sig: sigB, high: highB, low: lowB, yTicks: yTicksB, yLabels: yLabelsB, yTitle: [264, 66, 6.5], legend: [470, 57, 8.5, 8, 6]},
  {s: smallA, box: [587, 13, 771, 110], xr: [-0.6, 20.6], yr: [-0.039, 0.722], names: cellsC, sig: sigC, high: highC, low: lowC, yTicks: yTicksC, yLabels: yLabelsC, yTitle: [573, 62, 6], legend: [778, 51, 7.5, 6.3, 5]},
  {s: bigB, box: [852, 13, 1036, 120], xr: [-0.6, 9.6], yr: [-0.455, 9.27], names: mcpCells, sig: sigD, high: highD, low: lowD, yTicks: yTicksD, yLabels: yLabelsD, yTitle: [840, 66, 6.5], legend: [1045, 57, 8.5, 8, 6]},
  {s: geneP, box: [20, 512, 68, 798], xr: [-0.6, 6.6], yr: [-0.28, 6.42], names: tcellGenes, sig: sigI1, high: highI1, low: lowI1, yTicks: yTicks0246, yLabels: yLabels0246, yTitle: [10, 650, 5.8], legend: [77, 645, 7.5, 6, 5], title: [18, ['T cell phenotypic', 'and functional marker']]},
  {s: geneP, box: [124, 512, 166, 798], xr: [-0.6, 5.6], yr: [-0.44, 10.03], names: myeloidGenes, sig: sigI2, high: highI2, low: lowI2, yTicks: yTicksI2, yLabels: yLabelsI2, yTitle: [110, 650, 5.8], legend: [176, 645, 7.5, 6, 5], title: [124, ['Myeloid lineage phenotypic', 'and functional markers']]},
  {s: geneP, box: [220, 512, 248, 798], xr: [-0.6, 3.6], yr: [-0.28, 6.42], names: inhibitoryGenes, sig: sigI3, high: highI3, low: lowI3, yTicks: yTicks0246, yLabels: yLabels0246, yTitle: [211, 650, 5.8], legend: [257, 645, 7.5, 6, 5], title: [220, ['Inhibitory immune', 'receptor or ligands']]},
  {s: geneP, box: [305, 512, 332, 797], xr: [-0.6, 4.6], yr: [-0.366, 7.09], names: activatingGenes, sig: sigI4, high: highI4, low: lowI4, yTicks: yTicks0246, yLabels: yLabels0246, yTitle: [293, 650, 5.8], legend: [342, 644, 7.5, 6, 5], title: [285, ['Activating immune receptors']]},
  {s: geneP, box: [389, 512, 416, 797], xr: [-0.6, 4.6], yr: [-0.557, 11.66], names: ifngGenes, sig: sigI5, high: highI5, low: lowI5, yTicks: yTicks0369, yLabels: yLabels0369, yTitle: [378, 650, 5.8], legend: [427, 644, 7.5, 6, 5], title: [390, ['IFNγ signature']]},
  {s: geneP, box: [467, 512, 496, 797], xr: [-0.6, 1.6], yr: [-0.33, 6.43], names: modulatorGenes, sig: sigI6, high: highI6, low: lowI6, yTicks: yTicks0246, yLabels: yLabels0246, yTitle: [460, 650, 5.8], legend: [505, 644, 7.5, 6, 5], title: [468, ['Immune modulators']]},
  {s: geneP, box: [571, 513, 618, 799], xr: [-0.6, 6.6], yr: [-0.35, 7.94], names: tcellGenes, sig: sigJ1, high: highJ1, low: lowJ1, yTicks: yTicks0246, yLabels: yLabels0246, yTitle: [562, 652, 5.8], legend: [628, 646, 7.5, 6, 5], title: [572, ['T cell phenotypic', 'and functional marker']]},
  {s: geneP, box: [671, 513, 719, 799], xr: [-0.6, 5.6], yr: [-0.52, 11.97], names: myeloidGenes, sig: sigJ2, high: highJ2, low: lowJ2, yTicks: yTicks0369, yLabels: yLabels0369, yTitle: [662, 652, 5.8], legend: [728, 646, 7.5, 6, 5], title: [670, ['Myeloid lineage phenotypic', 'and functional markers']]},
  {s: geneP, box: [769, 513, 798, 799], xr: [-0.6, 3.6], yr: [-0.26, 5.89], names: inhibitoryGenes, sig: sigJ3, high: highJ3, low: lowJ3, yTicks: yTicks024, yLabels: yLabels024, yTitle: [760, 652, 5.8], legend: [807, 646, 7.5, 6, 5], title: [769, ['Inhibitory immune', 'receptor or ligands']]},
  {s: geneP, box: [853, 512, 882, 797], xr: [-0.6, 4.6], yr: [-0.33, 6.97], names: activatingGenes, sig: sigJ4, high: highJ4, low: lowJ4, yTicks: yTicks0246, yLabels: yLabels0246, yTitle: [845, 652, 5.8], legend: [892, 646, 7.5, 6, 5], title: [833, ['Activating immune receptors']]},
  {s: geneP, box: [932, 512, 961, 797], xr: [-0.6, 4.6], yr: [-0.53, 11.98], names: ifngGenes, sig: sigJ5, high: highJ5, low: lowJ5, yTicks: yTicks0369, yLabels: yLabels0369, yTitle: [924, 652, 5.8], legend: [972, 646, 7.5, 6, 5], title: [932, ['IFNγ signature']]},
  {s: geneP, box: [1010, 512, 1041, 797], xr: [-0.6, 1.6], yr: [-0.23, 5.77], names: modulatorGenes, sig: sigJ6, high: highJ6, low: lowJ6, yTicks: yTicks024, yLabels: yLabels024, yTitle: [1002, 652, 5.8], legend: [1050, 646, 7.5, 6, 5], title: [1011, ['Immune modulators']]}
];

vPanels.forEach(function (p) {
  var gi = addPanel({box: p.box, xr: p.xr, yr: p.yr, yTicks: p.yTicks, yLabels: p.yLabels,
    xTicks: p.names.map(function (n, i) { return i; }), xLabels: p.names, rotate: true,
    xFs: p.s.xFs, yFs: p.s.yFs, family: SERIF});
  addViolins(gi, {names: p.names, sig: p.sig, high: p.high, low: p.low, yr: p.yr,
    dotR: p.s.dotR, sigFs: p.s.sigFs, sigDy: p.s.sigDy});
  G.push(txt(p.yTitle[0], p.yTitle[1], 'value', p.yTitle[2], {rot: Math.PI / 2, align: 'center'}));
  addLegend(p.legend);
  if (p.title) {
    var lines = p.title[1];
    lines.forEach(function (s, k) {
      var y = lines.length === 2 ? 498 + k * 8 : 505;
      G.push(txt(p.title[0], y, s, 5.6, {family: SANS, weight: 'bold'}));
    });
    G.push(seg(p.box[0], 509.5, p.box[2], 509.5, '#555555', 0.7));
  }
});

// ---------- scatter panels ----------
var sPanels = [
  {box: [21, 173, 234, 468], xr: [-2.78, 1.35], yr: [3.874, 4.356], xTicks: xTicksEF, xLabels: xLabelsEF, yTicks: yTicksEH, yLabels: yLabelsEH, pts: pointsE, smooth: smoothE, band: bandE, yName: 'ImmuneScore', yNameX: 7, note: ['−0.061', '0.093'], noteX: 30},
  {box: [283, 173, 495, 468], xr: [-2.78, 1.35], yr: [3.958, 4.30], xTicks: xTicksEF, xLabels: xLabelsEF, yTicks: yTicksF, yLabels: yLabelsF, pts: pointsF, smooth: smoothF, band: bandF, yName: 'StromalScore', yNameX: 265, note: ['−0.13', '5e−04'], noteX: 290},
  {box: [577, 172, 792, 468], xr: [-1.455, 0.465], yr: [4.039, 4.354], xTicks: xTicksGH, xLabels: xLabelsGH, yTicks: yTicksG, yLabels: yLabelsG, pts: pointsG, smooth: smoothG, band: bandG, yName: 'ImmuneScore', yNameX: 563, note: ['−0.19', '0.00052'], noteX: 585},
  {box: [840, 173, 1053, 468], xr: [-1.455, 0.465], yr: [3.84, 4.304], xTicks: xTicksGH, xLabels: xLabelsGH, yTicks: yTicksEH, yLabels: yLabelsEH, pts: pointsH, smooth: smoothH, band: bandH, yName: 'StromalScore', yNameX: 824, note: ['−0.14', '0.013'], noteX: 849}
];

sPanels.forEach(function (p) {
  var gi = addPanel({box: p.box, xr: p.xr, yr: p.yr, xTicks: p.xTicks, xLabels: p.xLabels,
    yTicks: p.yTicks, yLabels: p.yLabels, gray: true, xFs: 5.6, yFs: 5.4, family: SANS});
  var stack = 'band' + gi;
  option.series.push({type: 'line', xAxisIndex: gi, yAxisIndex: gi, stack: stack, smooth: 0.4, showSymbol: false, silent: true, z: 2,
    data: p.band.map(function (b) { return [b[0], b[1]]; }), lineStyle: {width: 0, opacity: 0}});
  option.series.push({type: 'line', xAxisIndex: gi, yAxisIndex: gi, stack: stack, smooth: 0.4, showSymbol: false, silent: true, z: 2,
    data: p.band.map(function (b) { return [b[0], b[2] - b[1]]; }), lineStyle: {width: 0, opacity: 0},
    areaStyle: {color: 'rgba(160,160,160,0.4)', opacity: 1}});
  option.series.push({type: 'scatter', xAxisIndex: gi, yAxisIndex: gi, data: p.pts, symbolSize: 2.4, silent: true, z: 3,
    itemStyle: {color: '#000000'}});
  option.series.push({type: 'line', xAxisIndex: gi, yAxisIndex: gi, data: p.smooth, smooth: 0.4, showSymbol: false, silent: true, z: 4,
    lineStyle: {color: '#000000', width: 1.4}});
  G.push(txt(p.yNameX, (p.box[1] + p.box[3]) / 2, p.yName, 6.6, {family: SANS, rot: Math.PI / 2, align: 'center'}));
  G.push(txt((p.box[0] + p.box[2]) / 2, 480, 'riskscore', 6.8, {family: SANS, align: 'center'}));
  var it = {fontStyle: 'italic', fontSize: 5.8, fontFamily: SANS, fill: '#000'};
  G.push(txt(p.noteX, 190, '{i|R} = ' + p.note[0] + ', {i|p} = ' + p.note[1], 5.8, {family: SANS, rich: {i: it}}));
});

// ---------- panel letters ----------
[['A', 2, 14, 24], ['B', 257, 14, 24], ['C', 549, 14, 24], ['D', 816, 14, 24],
 ['E', 4, 171, 24], ['F', 251, 171, 24], ['G', 544, 171, 24], ['H', 811, 171, 24],
 ['I', 4, 490, 20], ['J', 544, 494, 20]].forEach(function (l) {
  G.push(txt(l[1], l[2], l[0], l[3], {family: SANS, weight: 'bold'}));
});

chart.setOption(option);
</script>
</body>
</html>
